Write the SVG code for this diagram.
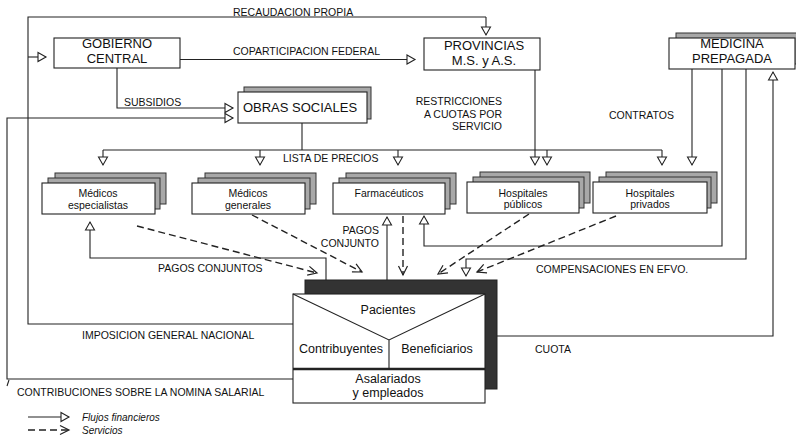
<svg xmlns="http://www.w3.org/2000/svg" width="796" height="440" viewBox="0 0 796 440">
<style>
text{font-family:"Liberation Sans",Arial,sans-serif;fill:#111}
.lbl{font-size:10.5px}
.big{font-size:13px;text-anchor:middle}
.sm{font-size:10.5px;text-anchor:middle}
.pt{font-size:12.5px;text-anchor:middle}
.leg{font-size:10px;font-style:italic}
.box{fill:#fff;stroke:#222;stroke-width:1.1}
.sh{fill:#a8a8a8;stroke:#333;stroke-width:1}
.ln{fill:none;stroke:#222;stroke-width:1.1}
.fl{marker-end:url(#tri)}
.dash{fill:none;stroke:#222;stroke-width:1.4;stroke-dasharray:7,4;marker-end:url(#chev)}
</style>
<defs>
<marker id="tri" markerUnits="userSpaceOnUse" markerWidth="11" markerHeight="11" refX="9" refY="5" orient="auto" overflow="visible">
<path d="M1,0.5 L9,5 L1,9.5 Z" fill="#fff" stroke="#222" stroke-width="1.1"/>
</marker>
<marker id="chev" markerUnits="userSpaceOnUse" markerWidth="11" markerHeight="11" refX="9" refY="5" orient="auto" overflow="visible">
<path d="M0,0.5 L9,5 L0,9.5" fill="none" stroke="#222" stroke-width="1.2"/>
</marker>
</defs>
<rect width="796" height="440" fill="#fff"/>

<g id="connectors">
<path class="ln" d="M293,324 L28,324 L28,17 L486,17"/>
<path class="ln fl" d="M486,17 L486,35"/>
<path class="ln fl" d="M28,57 L46,57"/>
<path class="ln fl" d="M180,59.5 L415,59.5"/>
<path class="ln fl" d="M117,68 L117,108 L233,108"/>
<path class="ln fl" d="M293,379 L7,379 L7,118 L233,118"/>
<path class="ln" d="M9,380 L7,386"/>
<path class="ln" d="M302,123 L302,150"/>
<path class="ln" d="M103,150 L662,150"/>
<path class="ln fl" d="M103,150 L103,165"/>
<path class="ln fl" d="M260,150 L260,165"/>
<path class="ln fl" d="M398,150 L398,165"/>
<path class="ln fl" d="M547,150 L547,165"/>
<path class="ln fl" d="M662,150 L662,165"/>
<path class="ln fl" d="M535,70 L535,165"/>
<path class="ln fl" d="M692,69 L692,165"/>
<path class="ln fl" d="M722,69 L722,246 L424,246 L424,216"/>
<path class="ln fl" d="M746,69 L746,259 L466,259 L466,276"/>
<path class="ln fl" d="M497,336 L773,336 L773,72"/>
<path class="ln fl" d="M326,280 L326,258 L90,258 L90,222"/>
<path class="ln fl" d="M387,280 L387,217"/>
<path class="dash" d="M137,226 L317,273"/>
<path class="dash" d="M252,215 L362,272"/>
<path class="dash" d="M403,216 L403,275"/>
<path class="dash" d="M529,214 L438,274"/>
<path class="dash" d="M616,216 L477,272"/>
</g>

<g id="labels">
<text class="lbl" x="233" y="15.5">RECAUDACION PROPIA</text>
<text class="lbl" x="233" y="55">COPARTICIPACION FEDERAL</text>
<text class="lbl" x="124" y="105.5">SUBSIDIOS</text>
<text class="lbl" x="283" y="161.5">LISTA DE PRECIOS</text>
<text class="lbl" x="502" y="104.5" text-anchor="end">RESTRICCIONES</text>
<text class="lbl" x="502" y="117.5" text-anchor="end">A CUOTAS POR</text>
<text class="lbl" x="502" y="130" text-anchor="end">SERVICIO</text>
<text class="lbl" x="609" y="119">CONTRATOS</text>
<text class="lbl" x="158" y="272">PAGOS CONJUNTOS</text>
<text class="lbl" x="379" y="233.5" text-anchor="end">PAGOS</text>
<text class="lbl" x="379" y="246.5" text-anchor="end">CONJUNTO</text>
<text class="lbl" x="536" y="273">COMPENSACIONES EN EFVO.</text>
<text class="lbl" x="82" y="339">IMPOSICION GENERAL NACIONAL</text>
<text class="lbl" x="535" y="353">CUOTA</text>
<text class="lbl" x="17" y="396">CONTRIBUCIONES SOBRE LA NOMINA SALARIAL</text>
</g>

<g id="gobierno">
<rect class="box" x="54" y="38" width="126" height="30"/>
<text class="big" x="117" y="48">GOBIERNO</text>
<text class="big" x="117" y="63">CENTRAL</text>
</g>

<g id="provincias">
<rect class="box" x="424" y="38" width="116" height="32"/>
<text class="big" x="484" y="50">PROVINCIAS</text>
<text class="big" x="484" y="65">M.S. y A.S.</text>
</g>

<g id="obras">
<rect class="sh" x="244" y="87" width="127" height="32"/>
<rect class="box" x="238" y="92" width="129" height="31"/>
<text class="big" x="300" y="112">OBRAS SOCIALES</text>
</g>

<g id="medicina">
<rect class="sh" x="676" y="33" width="130" height="31"/>
<rect class="box" x="669" y="38" width="126" height="31"/>
<text class="big" x="732" y="48">MEDICINA</text>
<text class="big" x="732" y="63">PREPAGADA</text>
</g>

<g id="especialistas">
<rect class="sh" x="55" y="173" width="111" height="31"/>
<rect class="sh" x="48" y="178" width="112" height="31"/>
<rect class="box" x="42" y="183" width="113" height="31"/>
<text class="sm" x="98" y="197">Médicos</text>
<text class="sm" x="98" y="208.5">especialistas</text>
</g>

<g id="generales">
<rect class="sh" x="205" y="173" width="111" height="31"/>
<rect class="sh" x="198" y="178" width="112" height="31"/>
<rect class="box" x="192" y="183" width="113" height="31"/>
<text class="sm" x="248" y="197">Médicos</text>
<text class="sm" x="248" y="208.5">generales</text>
</g>

<g id="farmaceuticos">
<rect class="sh" x="346" y="173" width="110" height="31"/>
<rect class="sh" x="339" y="178" width="111" height="31"/>
<rect class="box" x="333" y="183" width="112" height="31"/>
<text class="sm" x="389" y="197">Farmacéuticos</text>
</g>

<g id="hpublicos">
<rect class="sh" x="480" y="172" width="110" height="31"/>
<rect class="sh" x="473" y="177" width="111" height="31"/>
<rect class="box" x="467" y="182" width="112" height="31"/>
<text class="sm" x="523" y="196.5">Hospitales</text>
<text class="sm" x="523" y="207.5">públicos</text>
</g>

<g id="hprivados">
<rect class="sh" x="606" y="172" width="111" height="31"/>
<rect class="sh" x="599" y="177" width="112" height="31"/>
<rect class="box" x="593" y="182" width="114" height="31"/>
<text class="sm" x="650" y="196.5">Hospitales</text>
<text class="sm" x="650" y="207.5">privados</text>
</g>

<g id="pacientes">
<rect x="305" y="280" width="192" height="109" fill="#333" stroke="#222"/>
<rect class="box" x="293" y="294" width="192" height="109"/>
<path class="ln" d="M293,294 L389,340 L485,294 M389,340 L389,369"/>
<line x1="293" y1="369" x2="485" y2="369" stroke="#222" stroke-width="2.5"/>
<text class="pt" x="388" y="314">Pacientes</text>
<text class="pt" x="341" y="353">Contribuyentes</text>
<text class="pt" x="437" y="353">Beneficiarios</text>
<text class="pt" x="388" y="383">Asalariados</text>
<text class="pt" x="388" y="397">y empleados</text>
</g>

<g id="legend">
<path class="ln fl" d="M28,417 L69,417"/>
<path class="dash" d="M28,430 L69,430"/>
<text class="leg" x="82" y="420.5">Flujos financieros</text>
<text class="leg" x="82" y="433.5">Servicios</text>
</g>
</svg>
